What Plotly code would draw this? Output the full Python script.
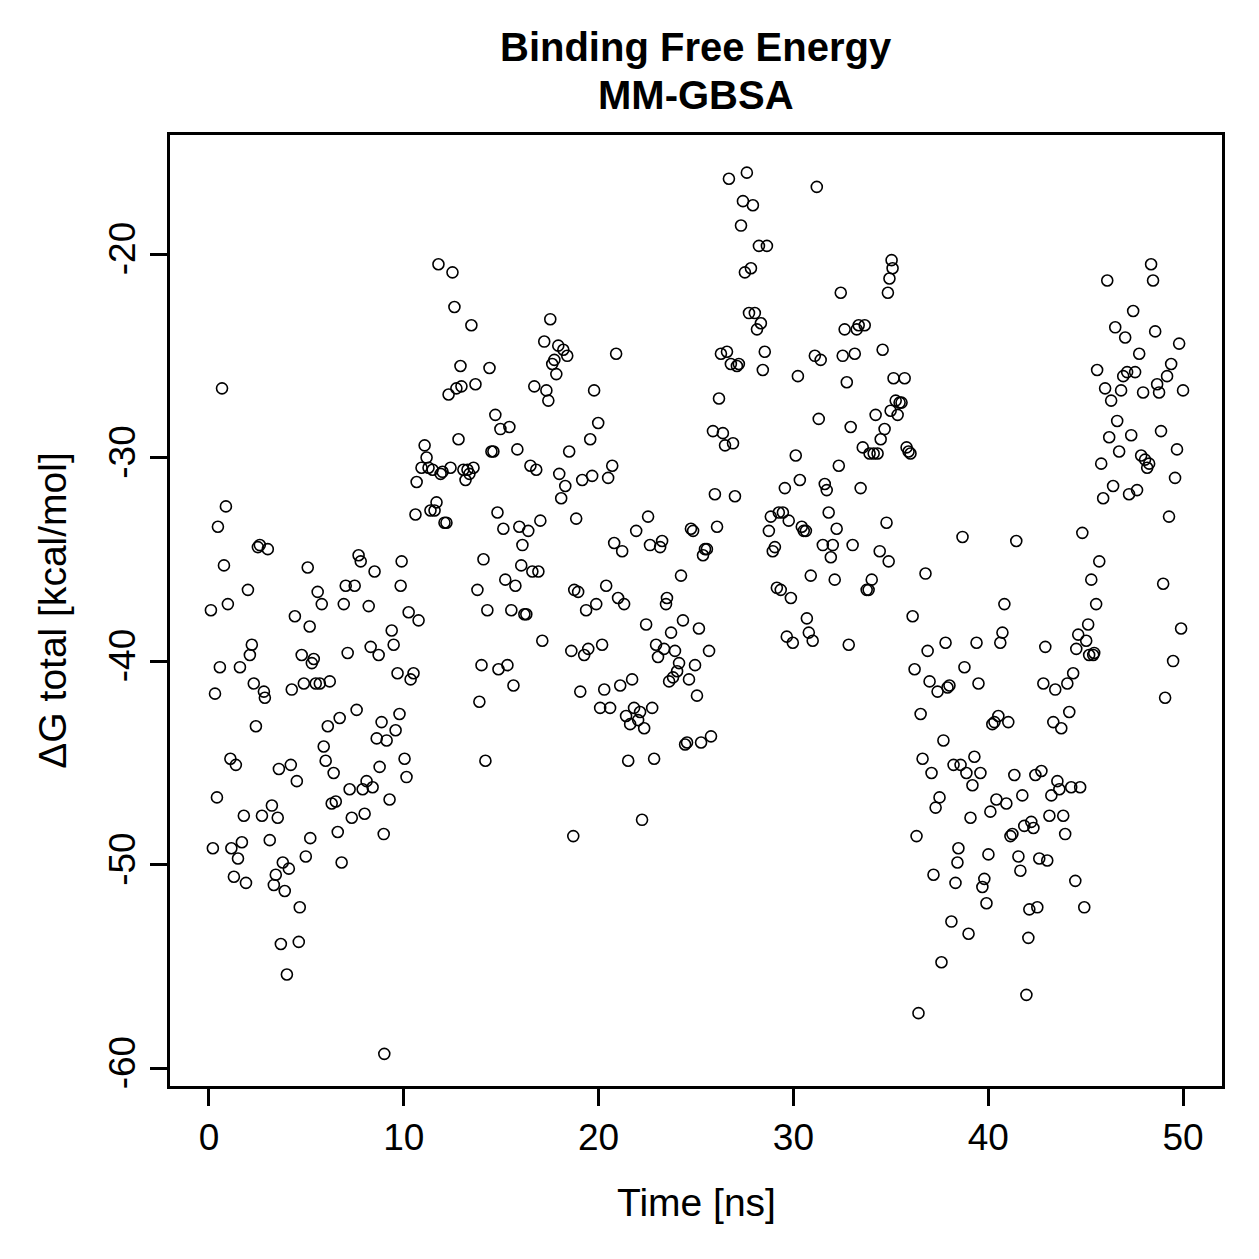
import plotly.graph_objects as go

# Time [ns] and Delta G total [kcal/mol]
time_ns = [
    0.10, 0.20, 0.31, 0.41, 0.46, 0.56, 0.67, 0.77, 0.87, 0.97,
    1.10, 1.15, 1.28, 1.38, 1.49, 1.59, 1.69, 1.79, 1.90, 2.00,
    2.10, 2.20, 2.30, 2.41, 2.51, 2.61, 2.72, 2.82, 2.87, 3.02,
    3.12, 3.23, 3.33, 3.43, 3.53, 3.59, 3.69, 3.79, 3.89, 4.00,
    4.10, 4.20, 4.25, 4.41, 4.51, 4.61, 4.66, 4.76, 4.87, 4.97,
    5.07, 5.17, 5.20, 5.28, 5.38, 5.48, 5.58, 5.69, 5.79, 5.89,
    5.99, 6.10, 6.20, 6.30, 6.40, 6.51, 6.61, 6.71, 6.81, 6.92,
    7.02, 7.12, 7.22, 7.33, 7.48, 7.58, 7.68, 7.79, 7.89, 7.99,
    8.09, 8.20, 8.30, 8.40, 8.50, 8.61, 8.71, 8.76, 8.86, 8.97,
    9.00, 9.12, 9.27, 9.38, 9.48, 9.58, 9.68, 9.78, 9.84, 9.89,
    10.04, 10.14, 10.25, 10.35, 10.50, 10.60, 10.66, 10.76,
    10.91, 11.07, 11.17, 11.27, 11.37, 11.48, 11.58, 11.68, 11.78, 11.89,
    11.99, 12.09, 12.19, 12.30, 12.40, 12.50, 12.60, 12.70, 12.81, 12.91,
    12.96, 13.06, 13.17, 13.27, 13.37, 13.47, 13.58, 13.68, 13.78, 13.88,
    13.99, 14.09, 14.19, 14.29, 14.40, 14.50, 14.60, 14.70, 14.81, 14.86,
    14.96,
    15.11, 15.21, 15.32, 15.42, 15.52, 15.63, 15.73, 15.83, 15.93, 16.03,
    16.09, 16.19, 16.29, 16.39, 16.50, 16.60, 16.70, 16.80, 16.91, 17.01,
    17.11, 17.21, 17.32, 17.42, 17.52, 17.62, 17.73, 17.83, 17.93, 17.98,
    18.08, 18.19, 18.29, 18.39, 18.49, 18.60, 18.70, 18.75, 18.85, 18.95,
    19.06, 19.16, 19.26, 19.36, 19.47, 19.57, 19.67, 19.77, 19.88, 19.98,
    20.08, 20.18,
    20.29, 20.39, 20.49, 20.59, 20.70, 20.80, 20.90, 21.00, 21.11, 21.21,
    21.31, 21.41, 21.52, 21.62, 21.72, 21.82, 21.93, 22.03, 22.13, 22.23,
    22.34, 22.44, 22.54, 22.64, 22.75, 22.85, 22.95, 23.05, 23.16, 23.26,
    23.36, 23.46, 23.51, 23.62, 23.72, 23.82, 23.92, 24.03, 24.13, 24.23,
    24.33, 24.44, 24.54, 24.64, 24.74, 24.85, 24.95,
    25.05, 25.15, 25.26, 25.36, 25.46, 25.56, 25.67, 25.77, 25.87, 25.97,
    26.08, 26.18, 26.28, 26.38, 26.49, 26.59, 26.69, 26.79, 26.90, 27.00,
    27.10, 27.20, 27.31, 27.41, 27.51, 27.61, 27.72, 27.82, 27.92, 28.02,
    28.13, 28.23, 28.33, 28.43, 28.53, 28.64, 28.74, 28.84, 28.94, 29.05,
    29.15, 29.25, 29.35, 29.46, 29.56, 29.66, 29.76, 29.87, 29.97,
    30.12, 30.23, 30.33, 30.43, 30.53, 30.64, 30.69, 30.79, 30.89, 30.99,
    31.10, 31.20, 31.30, 31.40, 31.51, 31.61, 31.71, 31.81, 31.92, 32.02,
    32.12, 32.22, 32.33, 32.43, 32.53, 32.63, 32.74, 32.84, 32.94, 33.04,
    33.15, 33.25, 33.35, 33.45, 33.56, 33.66, 33.76, 33.86, 33.91, 34.02,
    34.12, 34.22, 34.32, 34.43, 34.48, 34.58, 34.68, 34.78, 34.89, 34.99,
    34.85, 34.93, 35.04, 35.09,
    35.14, 35.25, 35.35, 35.45, 35.55, 35.71, 35.81, 35.91, 36.01, 36.12,
    36.22, 36.32, 36.42, 36.53, 36.63, 36.78, 36.89, 36.99, 37.09, 37.19,
    37.30, 37.40, 37.50, 37.60, 37.70, 37.81, 37.91, 38.01, 38.11, 38.22,
    38.32, 38.42, 38.47, 38.58, 38.68, 38.78, 38.88, 38.99, 39.09, 39.19,
    39.29, 39.40, 39.50, 39.60, 39.70, 39.80, 39.91, 40.01,
    40.11, 40.21, 40.32, 40.42, 40.52, 40.62, 40.73, 40.83, 40.93, 41.03,
    41.14, 41.24, 41.34, 41.44, 41.55, 41.65, 41.75, 41.85, 41.96, 42.06,
    42.11, 42.21, 42.32, 42.42, 42.52, 42.62, 42.73, 42.83, 42.93, 43.03,
    43.14, 43.24, 43.34, 43.44, 43.55, 43.65, 43.75, 43.85, 43.95, 44.06,
    44.16, 44.26, 44.36, 44.47, 44.52, 44.62, 44.72, 44.83, 44.93,
    45.03, 45.13, 45.18, 45.29, 45.39, 45.44, 45.54, 45.59, 45.70, 45.80,
    45.90, 46.00, 46.11, 46.21, 46.31, 46.41, 46.52, 46.62, 46.72, 46.82,
    46.93, 47.03, 47.13, 47.23, 47.34, 47.44, 47.54, 47.64, 47.75, 47.85,
    47.95, 48.05, 48.16, 48.26, 48.36, 48.46, 48.57, 48.67, 48.77, 48.87,
    48.98, 49.08, 49.18, 49.28, 49.39, 49.49, 49.59, 49.69, 49.80, 49.90,
    50.00,
]

dg_total = [
    -37.5, -49.2, -41.6, -46.7, -33.4, -40.3, -26.6, -35.3, -32.4, -37.2,
    -44.8, -49.2, -50.6, -45.1, -49.7, -40.3, -48.9, -47.6, -50.9, -36.5,
    -39.7, -39.2, -41.1, -43.2, -34.4, -34.3, -47.6, -41.5, -41.8, -34.5,
    -48.8, -47.1, -51.0, -50.5, -47.7, -45.3, -53.9, -49.9, -51.3, -55.4,
    -50.2, -45.1, -41.4, -37.8, -45.9, -53.8, -52.1, -39.7, -41.1, -49.6,
    -35.4, -38.3, -48.7, -40.1, -39.9, -41.1, -36.6, -41.1, -37.2, -44.2,
    -44.9, -43.2, -41.0, -47.0, -45.5, -46.9, -48.4, -42.8, -49.9, -37.2,
    -36.3, -39.6, -46.3, -47.7, -36.3, -42.4, -34.8, -35.1, -46.3, -47.5,
    -45.9, -37.3, -39.3, -46.2, -35.6, -43.8, -39.7, -45.2, -43.0, -48.5,
    -59.3, -43.9, -46.8, -38.5, -39.2, -43.4, -40.6, -42.6, -36.3, -35.1,
    -44.8, -45.7, -37.6, -40.9, -40.6, -32.8, -31.2, -38.0,
    -30.5, -29.4, -30.0, -30.5, -32.6, -30.6, -32.6, -32.2, -20.5, -30.8,
    -30.7, -33.2, -33.2, -26.9, -30.5, -20.9, -22.6, -26.6, -29.1, -25.5,
    -26.5, -30.6, -31.1, -30.6, -30.8, -23.5, -30.5, -26.4, -36.5, -42.0,
    -40.2, -35.0, -44.9, -37.5, -25.6, -29.7, -29.7, -27.9, -32.7, -40.4,
    -28.6,
    -33.5, -36.0, -40.2, -28.5, -37.5, -41.2, -36.3, -29.6, -33.4, -35.3,
    -34.3, -37.7, -37.7, -33.6, -30.4, -35.6, -26.5, -30.6, -35.6, -33.1,
    -39.0, -24.3, -26.7, -27.2, -23.2, -25.4, -25.2, -25.9, -24.5, -30.8,
    -32.0, -24.7, -31.4, -25.0, -29.7, -39.5, -48.6, -36.5, -33.0, -36.6,
    -41.5, -31.1, -39.7, -37.5, -39.4, -29.1, -30.9, -26.7, -37.2, -28.3,
    -42.3, -39.2,
    -41.4, -36.3, -31.0, -42.3, -30.4, -34.2, -24.9, -36.9, -41.2, -34.6,
    -37.2, -42.7, -44.9, -43.1, -40.9, -42.3, -33.6, -42.9, -42.5, -47.8,
    -43.3, -38.2, -32.9, -34.3, -42.3, -44.8, -39.2, -39.8, -34.4, -34.1,
    -39.4, -37.2, -36.9, -41.0, -38.6, -40.8, -39.5, -40.5, -40.1, -35.8,
    -38.0, -44.1, -44.0, -40.9, -33.5, -33.6, -40.2,
    -41.7, -38.4, -44.0, -34.8, -34.5, -34.5, -39.5, -43.7, -28.7, -31.8,
    -33.4, -27.1, -24.9, -28.8, -29.4, -24.8, -16.3, -25.4, -29.3, -31.9,
    -25.5, -25.4, -18.6, -17.4, -20.9, -16.0, -22.9, -20.7, -17.6, -22.9,
    -23.7, -19.6, -23.4, -25.7, -24.8, -19.6, -33.6, -32.9, -34.6, -34.4,
    -36.4, -32.7, -36.5, -32.7, -31.5, -38.8, -33.1, -36.9, -39.1,
    -29.9, -26.0, -31.1, -33.4, -33.6, -33.6, -37.9, -38.6, -35.8, -39.0,
    -25.0, -16.7, -28.1, -25.2, -34.3, -31.3, -31.6, -32.7, -34.9, -34.3,
    -36.0, -33.5, -30.4, -21.9, -25.0, -23.7, -26.3, -39.2, -28.5, -34.3,
    -24.9, -23.7, -23.5, -31.5, -29.5, -23.5, -36.5, -36.5, -29.8, -36.0,
    -29.8, -27.9, -29.8, -34.6, -29.1, -24.7, -28.6, -33.2, -35.1, -27.7,
    -21.9, -21.2, -20.3, -20.7,
    -26.1, -27.2, -27.9, -27.3, -27.3, -26.1, -29.5, -29.7, -29.8, -37.8,
    -40.4, -48.6, -57.3, -42.6, -44.8, -35.7, -39.5, -41.0, -45.5, -50.5,
    -47.2, -41.5, -46.7, -54.8, -43.9, -39.1, -41.3, -41.2, -52.8, -45.1,
    -50.9, -49.9, -49.2, -45.1, -33.9, -40.3, -45.5, -53.4, -47.7, -46.1,
    -44.7, -39.1, -41.1, -45.5, -51.1, -50.7, -51.9, -49.5,
    -47.4, -43.1, -43.0, -46.8, -42.7, -39.1, -38.6, -37.2, -47.0, -43.0,
    -48.6, -48.5, -45.6, -34.1, -49.6, -50.3, -46.6, -48.1, -56.4, -53.6,
    -52.2, -47.9, -48.2, -45.6, -52.1, -49.7, -45.4, -41.1, -39.3, -49.8,
    -47.6, -46.6, -43.0, -41.4, -45.9, -46.3, -43.3, -47.6, -48.5, -41.1,
    -42.5, -46.2, -40.6, -50.8, -39.4, -38.7, -46.2, -33.7, -52.1,
    -39.0, -38.2, -39.7, -36.0, -39.7, -39.6, -37.2, -25.7, -35.1, -30.3,
    -32.0, -26.6, -21.3, -29.0, -27.2, -31.4, -23.6, -28.2, -29.7, -26.7,
    -26.0, -24.1, -25.8, -31.8, -28.9, -22.8, -25.8, -31.6, -24.9, -29.9,
    -26.8, -30.1, -30.5, -30.3, -20.5, -21.3, -23.8, -26.4, -26.8, -28.7,
    -36.2, -41.8, -26.0, -32.9, -25.4, -40.0, -31.0, -29.6, -24.4, -38.4,
    -26.7,
]

x_ticks = [0, 10, 20, 30, 40, 50]
y_ticks = [-60, -50, -40, -30, -20]

FONT = "Liberation Sans, Arial, Helvetica, sans-serif"

fig = go.Figure()
fig.add_trace(go.Scatter(
    x=time_ns, y=dg_total, mode="markers",
    marker=dict(symbol="circle-open", size=11, color="black",
                line=dict(width=1.6, color="black")),
    showlegend=False,
))

axis_common = dict(
    showgrid=False, zeroline=False, showline=True, mirror=True,
    linecolor="black", linewidth=2.5, ticks="outside", ticklen=17,
    tickwidth=2.5, tickcolor="black",
    tickfont=dict(family=FONT, size=37, color="black"),
)

fig.update_layout(
    width=1259, height=1259,
    margin=dict(l=170, r=37, t=135, b=173, pad=0),
    paper_bgcolor="white", plot_bgcolor="white",
    font=dict(family=FONT, color="black"),
    xaxis=dict(range=[-2, 52], tickvals=x_ticks,
               ticktext=[str(v) for v in x_ticks], **axis_common),
    yaxis=dict(range=[-60.88, -14.15], tickvals=y_ticks,
               ticktext=[str(v) for v in y_ticks], tickangle=-90,
               **axis_common),
    annotations=[
        dict(text="<b>Binding Free Energy</b>", xref="paper", yref="paper",
             x=0.5, y=1.0925, xanchor="center", yanchor="middle",
             showarrow=False, font=dict(family=FONT, size=40, color="black")),
        dict(text="<b>MM-GBSA</b>", xref="paper", yref="paper",
             x=0.5, y=1.042, xanchor="center", yanchor="middle",
             showarrow=False, font=dict(family=FONT, size=40, color="black")),
        dict(text="Time [ns]", xref="paper", yref="paper",
             x=0.5, y=-0.122, xanchor="center", yanchor="middle",
             showarrow=False, font=dict(family=FONT, size=39, color="black")),
        dict(text="ΔG total [kcal/mol]", xref="paper", yref="paper",
             x=-0.112, y=0.5, xanchor="center", yanchor="middle",
             textangle=-90, showarrow=False,
             font=dict(family=FONT, size=39, color="black")),
    ],
)

fig.write_html("out.html")
